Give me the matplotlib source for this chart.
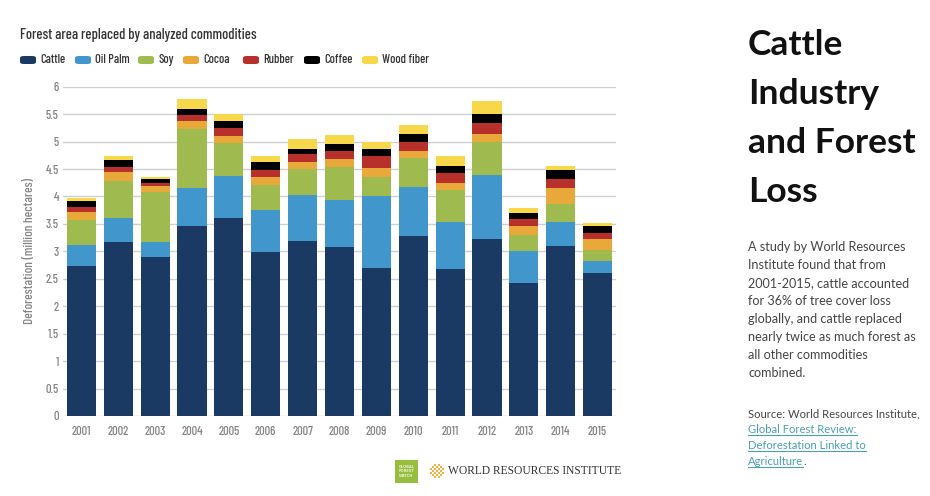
import matplotlib
matplotlib.use("Agg")
import matplotlib.pyplot as plt
from matplotlib.patches import FancyBboxPatch, Rectangle
from matplotlib.lines import Line2D
import numpy as np

# Data (million hectares)
years = ["2001", "2002", "2003", "2004", "2005", "2006", "2007", "2008",
         "2009", "2010", "2011", "2012", "2013", "2014", "2015"]
cattle = [2.73, 3.17, 2.90, 3.46, 3.61, 2.98, 3.19, 3.08, 2.69, 3.28, 2.67, 3.22, 2.42, 3.10, 2.60]
oil_palm = [0.38, 0.43, 0.27, 0.70, 0.76, 0.77, 0.83, 0.85, 1.32, 0.89, 0.86, 1.18, 0.59, 0.43, 0.22]
soy = [0.47, 0.69, 0.92, 1.07, 0.60, 0.45, 0.48, 0.61, 0.34, 0.53, 0.59, 0.59, 0.28, 0.33, 0.20]
cocoa = [0.13, 0.15, 0.10, 0.14, 0.14, 0.15, 0.13, 0.15, 0.16, 0.13, 0.13, 0.15, 0.18, 0.30, 0.20]
rubber = [0.10, 0.10, 0.05, 0.12, 0.14, 0.14, 0.14, 0.14, 0.23, 0.17, 0.18, 0.20, 0.12, 0.16, 0.11]
coffee = [0.11, 0.12, 0.08, 0.11, 0.13, 0.13, 0.10, 0.12, 0.12, 0.14, 0.12, 0.17, 0.11, 0.17, 0.13]
wood_fiber = [0.06, 0.08, 0.04, 0.17, 0.13, 0.12, 0.18, 0.17, 0.14, 0.16, 0.18, 0.23, 0.09, 0.06, 0.05]

series_names = ["Cattle", "Oil Palm", "Soy", "Cocoa", "Rubber", "Coffee", "Wood fiber"]
series_values = [cattle, oil_palm, soy, cocoa, rubber, coffee, wood_fiber]
colors = ["#1a3a63", "#4197cb", "#9fbb4f", "#e8a93a", "#b8302b", "#000000", "#f6d84a"]

yticks = [0, 0.5, 1, 1.5, 2, 2.5, 3, 3.5, 4, 4.5, 5, 5.5, 6]

narrow = ["Barlow Condensed", "Fira Sans Extra Condensed", "Roboto Condensed", "DejaVu Sans"]
body = ["Lato", "Open Sans", "DejaVu Sans"]

W, H = 930, 496
fig = plt.figure(figsize=(W / 100, H / 100), dpi=100)
fig.patch.set_facecolor("white")


def fx(px):
    return px / W


def fy(py):
    return 1 - py / H


# ---- stacked bar chart ----
ax = fig.add_axes([fx(63), fy(416), fx(616) - fx(63), fy(86.7) - fy(416)])
x = np.arange(len(years))
bottom = np.zeros(len(years))
for name, vals, col in zip(series_names, series_values, colors):
    ax.bar(x, vals, width=0.79, bottom=bottom, color=col, linewidth=0, zorder=3)
    bottom += np.array(vals)

ax.set_xlim(-0.5, len(years) - 0.5)
ax.set_ylim(0, 6)
ax.set_yticks(yticks)
ax.set_yticklabels([f"{v:g}" for v in yticks])
ax.set_xticks(x)
ax.set_xticklabels(years)
ax.grid(axis="y", color="#cfcfcf", linewidth=1.0, zorder=0)
ax.set_axisbelow(True)
for s in ax.spines.values():
    s.set_visible(False)
ax.tick_params(axis="both", length=0, colors="#858585", labelsize=9)
ax.tick_params(axis="y", pad=3)
ax.tick_params(axis="x", pad=7)
for lab in ax.get_xticklabels() + ax.get_yticklabels():
    lab.set_family(narrow)
    lab.set_weight("medium")
ax.set_ylabel("Deforestation (million hectares)", family=narrow, color="#858585",
              fontsize=9.5, labelpad=7, weight="medium")

# ---- title and legend ----
fig.text(fx(20), fy(35), "Forest area replaced by analyzed commodities", family=narrow,
         fontsize=10.5, weight="medium", color="#333333", va="center", ha="left")

legend_x = [20, 75, 138, 183, 243, 304, 362]
for lx, name, col in zip(legend_x, series_names, colors):
    fig.patches.append(FancyBboxPatch((fx(lx), fy(64)), fx(16), fy(56) - fy(64),
                                      boxstyle="round,pad=0,rounding_size=0.004",
                                      transform=fig.transFigure, facecolor=col,
                                      edgecolor="none"))
    fig.text(fx(lx + 20), fy(60), name, family=narrow, fontsize=9, weight="medium",
             color="#333333", va="center", ha="left")

# ---- logos ----
fig.patches.append(Rectangle((fx(395), fy(483)), fx(23), fy(460) - fy(483),
                             transform=fig.transFigure, facecolor="#97bd3d",
                             edgecolor="none"))
fig.text(fx(406.5), fy(471.5), "GLOBAL\nFOREST\nWATCH", fontsize=2.6, color="#e8f0d0",
         ha="center", va="center", weight="bold", linespacing=1.1)
ang = np.deg2rad(45)
for i in range(-2, 3):
    for j in range(-2, 3):
        if abs(i) + abs(j) > 3:
            continue
        dx = (i * np.cos(ang) - j * np.sin(ang)) * 2.6
        dy = (i * np.sin(ang) + j * np.cos(ang)) * 2.6
        fig.patches.append(Rectangle((fx(437 + dx - 1), fy(471 + dy + 1)), fx(2), fy(0) - fy(2),
                                     transform=fig.transFigure, facecolor="#f0b23f",
                                     edgecolor="none"))
fig.text(fx(448), fy(471), "WORLD RESOURCES INSTITUTE", family=["Liberation Serif", "DejaVu Serif"],
         fontsize=8.3, color="#333333", va="center", ha="left")

# ---- right hand text ----
heading = ["Cattle", "Industry", "and Forest", "Loss"]
heading_base = [55, 104, 153, 202]
for line, yb in zip(heading, heading_base):
    fig.text(fx(748), fy(yb), line, family=body, weight="bold", fontsize=25.5,
             color="#111111", va="baseline", ha="left")

para = ["A study by World Resources", "Institute found that from",
        "2001-2015, cattle accounted", "for 36% of tree cover loss",
        "globally, and cattle replaced", "nearly twice as much forest as",
        "all other commodities", "combined."]
for k, line in enumerate(para):
    fig.text(fx(748), fy(251 + 18 * k), line, family=body, fontsize=9.1,
             color="#444444", va="baseline", ha="left")

fig.text(fx(748), fy(417), "Source: World Resources Institute,", family=body, fontsize=8.1,
         color="#444444", va="baseline", ha="left")
links = ["Global Forest Review:", "Deforestation Linked to", "Agriculture"]
link_texts = []
for k, line in enumerate(links):
    t = fig.text(fx(748), fy(433 + 16 * k), line, family=body, fontsize=8.1,
                 color="#4a9fb0", va="baseline", ha="left")
    link_texts.append((t, 433 + 16 * k))

fig.canvas.draw()
renderer = fig.canvas.get_renderer()
for t, yb in link_texts:
    bb = t.get_window_extent(renderer)
    fig.add_artist(Line2D([bb.x0 / W, bb.x1 / W], [fy(yb + 2)] * 2, color="#4a9fb0",
                          linewidth=0.8, transform=fig.transFigure))
    if t.get_text() == "Agriculture":
        fig.text(bb.x1 / W, fy(yb), ".", family=body, fontsize=8.1, color="#444444",
                 va="baseline", ha="left")

fig.savefig("out.png", dpi=100, facecolor="white")
